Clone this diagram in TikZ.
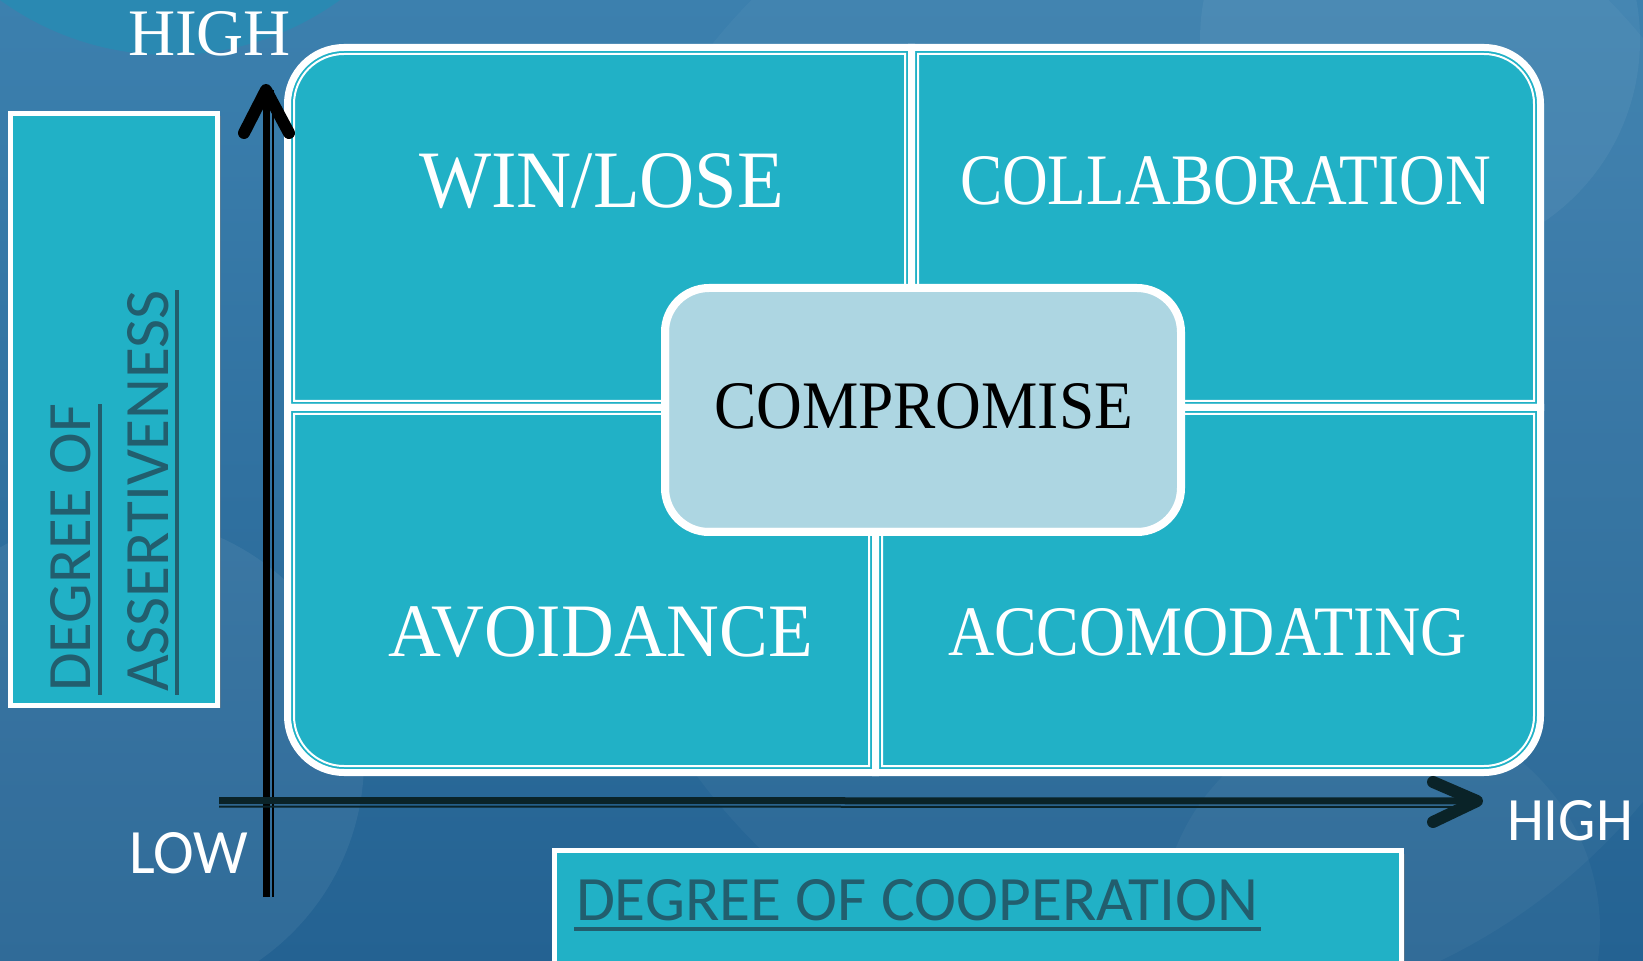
\documentclass[tikz,border=0pt]{standalone}
\usepackage{fontspec}
\setmainfont{Liberation Serif}
\newfontfamily\labelsans{Carlito}
\usetikzlibrary{shadows}
\definecolor{bgtop}{RGB}{60,128,174}
\definecolor{bgbottom}{RGB}{36,98,146}
\definecolor{tealfill}{RGB}{33,177,198}
\definecolor{paleblue}{RGB}{173,214,226}
\definecolor{inktext}{RGB}{34,94,110}
\definecolor{axisdark}{RGB}{10,35,40}
\definecolor{circleteal}{RGB}{38,140,180}
\begin{document}
\begin{tikzpicture}[x=0.5pt, y=-0.5pt,
  piece/.style={fill=tealfill, draw=white, line width=3.5pt},
  pieceline/.style={draw=white, line width=1pt},
  labelbox/.style={fill=tealfill, draw=white, line width=2.5pt, inner sep=0pt,
    drop shadow={opacity=0.45, shadow xshift=1.5pt, shadow yshift=-1.5pt}},
  word/.style={anchor=base west, inner sep=0pt, outer sep=0pt},
  quadword/.style={word, text=white},
  sideword/.style={word, text=inktext},
  ulinestyle/.style={draw=inktext, line width=2pt},
  shaft/.style={line width=3.5pt},
  shaftthin/.style={line width=1pt},
  barb/.style={line width=6pt, line cap=round, line join=round},
]
\useasboundingbox (0,0) rectangle (1643,961);

% background with soft circles
\shade[top color=bgtop, bottom color=bgbottom] (0,0) rectangle (1643,961);
\begin{scope}
  \clip (0,0) rectangle (1643,961);
  \fill[circleteal, opacity=0.8] (170,-235) circle [radius=145pt];
  \fill[white, opacity=0.06] (120,760) circle [radius=122pt];
  \fill[white, opacity=0.035] (1180,420) circle [radius=300pt];
  \fill[white, opacity=0.05] (1420,40) circle [radius=110pt];
  \fill[white, opacity=0.035] (1380,930) circle [radius=110pt];
\end{scope}

% caption boxes
\node[labelbox, minimum width=103.5pt, minimum height=296pt] (assertbox) at (114,409.5) {};
\node[labelbox, minimum width=423.5pt, minimum height=69.75pt] (coopbox) at (978,920.25) {};

% four quadrants, each with one rounded outer corner
\path[piece] (911.5,47.5) -- (344,47.5) .. controls (312.8,47.5) and (287.5,72.8) .. (287.5,104) -- (287.5,407.5) -- (911.5,407.5) -- cycle;
\path[pieceline] (905,54) -- (344,54) .. controls (316.4,54) and (294,76.4) .. (294,104) -- (294,401) -- (905,401) -- cycle;

\path[piece] (911.5,47.5) -- (1484,47.5) .. controls (1515.2,47.5) and (1540.5,72.8) .. (1540.5,104) -- (1540.5,407.5) -- (911.5,407.5) -- cycle;
\path[pieceline] (918,54) -- (1484,54) .. controls (1511.6,54) and (1534,76.4) .. (1534,104) -- (1534,401) -- (918,401) -- cycle;

\path[piece] (287.5,407.5) -- (287.5,716) .. controls (287.5,747.2) and (312.8,772.5) .. (344,772.5) -- (875.5,772.5) -- (875.5,407.5) -- cycle;
\path[pieceline] (294,414) -- (294,716) .. controls (294,743.6) and (316.4,766) .. (344,766) -- (869,766) -- (869,414) -- cycle;

\path[piece] (875.5,407.5) -- (1540.5,407.5) -- (1540.5,716) .. controls (1540.5,747.2) and (1515.2,772.5) .. (1484,772.5) -- (875.5,772.5) -- cycle;
\path[pieceline] (882,414) -- (1534,414) -- (1534,716) .. controls (1534,743.6) and (1511.6,766) .. (1484,766) -- (882,766) -- cycle;

% centre box
\node[draw=white, line width=4pt, fill=paleblue, rounded corners=22pt, inner sep=0pt,
      minimum width=258pt, minimum height=122pt] (compromise) at (923,410) {};
\draw[pieceline, rounded corners=18.5pt] ([shift={(7,7)}]compromise.north west) rectangle ([shift={(-7,-7)}]compromise.south east);

% quadrant labels
\node[quadword] (winlose) at (419,208) {\resizebox{182.5pt}{27pt}{WIN/LOSE}};
\node[quadword] (collab) at (960,205) {\resizebox{265.5pt}{24pt}{COLLABORATION}};
\node[word, text=black] (comptext) at (714,429) {\resizebox{209.5pt}{22.5pt}{COMPROMISE}};
\node[quadword] (avoid) at (388,656) {\resizebox{212.5pt}{25pt}{AVOIDANCE}};
\node[quadword] (accom) at (948,655) {\resizebox{259.5pt}{23.5pt}{ACCOMODATING}};

% axes
\coordinate (vbase) at (266,897);
\coordinate (vtip) at (266,90);
\coordinate (hbase) at (219,800.5);
\coordinate (htip) at (1477,801);
\draw[shaft, black] (vbase) -- (vtip);
\draw[shaftthin, black] ([xshift=3.5pt]vbase) -- ([xshift=3.5pt]vtip);
\draw[barb, black] ([shift={(-22,43)}]vtip) -- (vtip) -- ([shift={(23,43)}]vtip);
\draw[shaft, axisdark] (hbase) -- (htip);
\draw[shaftthin, axisdark] ([yshift=-3pt]hbase) -- ([shift={(-8,0)},yshift=-3pt]htip);
\draw[barb, axisdark] ([shift={(-44,-19)}]htip) -- (htip) -- ([shift={(-44,21)}]htip);

% axis end labels
\node[word, text=white] (hightop) at (128,56) {\resizebox{81.5pt}{22pt}{HIGH}};
\node[word, text=white] (lowlabel) at (129,873) {\resizebox{59.5pt}{20.5pt}{\labelsans LOW}};
\node[word, text=white] (highright) at (1507,840) {\resizebox{63pt}{20pt}{\labelsans HIGH}};

% axis captions
\node[sideword, rotate=90] (deg1) at (90,692) {\resizebox{144pt}{20pt}{\labelsans DEGREE OF}};
\node[sideword, rotate=90] (deg2) at (168,692) {\resizebox{201pt}{20.5pt}{\labelsans ASSERTIVENESS}};
\draw[ulinestyle] ([xshift=4.75pt, yshift=-1.5pt]deg1.base west) -- ([xshift=4.75pt]deg1.base east);
\draw[ulinestyle] ([xshift=4.5pt, yshift=-1.5pt]deg2.base west) -- ([xshift=4.5pt]deg2.base east);
\node[sideword] (coop) at (576,920) {\resizebox{341pt}{20.5pt}{\labelsans DEGREE OF COOPERATION}};
\draw[ulinestyle] ([xshift=-1pt, yshift=-4.5pt]coop.base west) -- ([xshift=1.5pt, yshift=-4.5pt]coop.base east);
\end{tikzpicture}
\end{document}
